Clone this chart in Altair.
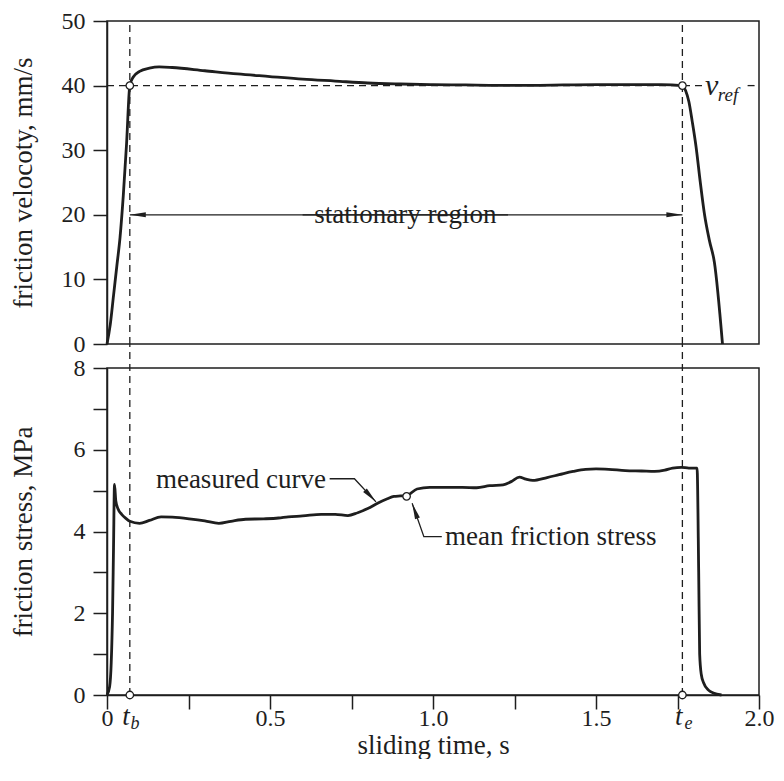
import altair as alt
import pandas as pd

FONT = "Liberation Serif, Times New Roman, serif"
INK = "#1e1e1e"

# ---------------- data ----------------
T_B = 0.07
T_E = 1.765
V_REF = 40

vel_t = [0.0, 0.01, 0.02, 0.03, 0.04, 0.05, 0.06, 0.07, 0.08, 0.10, 0.13, 0.16, 0.20,
         0.30, 0.40, 0.50, 0.60, 0.70, 0.80, 0.90, 1.00, 1.10, 1.20, 1.30, 1.40, 1.50,
         1.60, 1.70, 1.765, 1.775, 1.785, 1.795, 1.807, 1.82, 1.833, 1.848, 1.863, 1.888]
vel_v = [0, 3, 7.5, 12, 16.5, 23, 31, 40, 41.3, 42.2, 42.7, 42.9, 42.8,
         42.3, 41.8, 41.4, 41.0, 40.7, 40.4, 40.25, 40.15, 40.1, 40.05, 40.05, 40.1, 40.15,
         40.15, 40.15, 40.0, 39.2, 37.5, 34.5, 30.5, 25, 20, 16, 12.7, 0]

str_t = [0.0, 0.008, 0.013, 0.017, 0.020, 0.023, 0.027, 0.034, 0.045, 0.058, 0.07, 0.10,
         0.13, 0.166, 0.20, 0.252, 0.30, 0.343, 0.38, 0.425, 0.48, 0.526, 0.556, 0.60,
         0.657, 0.70, 0.739, 0.769, 0.80, 0.83, 0.86, 0.88, 0.90, 0.919, 0.951, 0.99,
         1.032, 1.09, 1.134, 1.174, 1.215, 1.24, 1.265, 1.285, 1.306, 1.35, 1.387, 1.43,
         1.468, 1.50, 1.539, 1.59, 1.64, 1.68, 1.711, 1.735, 1.762, 1.785, 1.81, 1.815,
         1.818, 1.823, 1.83, 1.845, 1.86, 1.885]
str_s = [0.0, 0.2, 0.8, 2.0, 3.6, 5.15, 4.75, 4.55, 4.42, 4.32, 4.25, 4.2,
         4.27, 4.36, 4.35, 4.31, 4.26, 4.2, 4.25, 4.3, 4.31, 4.33, 4.36, 4.38,
         4.42, 4.42, 4.39, 4.46, 4.56, 4.69, 4.8, 4.86, 4.87, 4.88, 5.04, 5.08,
         5.08, 5.08, 5.07, 5.12, 5.14, 5.22, 5.33, 5.28, 5.25, 5.32, 5.39, 5.47,
         5.52, 5.53, 5.52, 5.49, 5.48, 5.47, 5.5, 5.55, 5.57, 5.55, 5.55, 3.0,
         1.0, 0.5, 0.3, 0.12, 0.05, 0.0]

x_ticks = [0, 0.25, 0.5, 0.75, 1.0, 1.25, 1.5, 1.75, 2.0]
v_ticks = [0, 5, 10, 15, 20, 25, 30, 35, 40, 45, 50]
s_ticks = [0, 1, 2, 3, 4, 5, 6, 7, 8]

# annotation positions (data units)
vref_seg_start = [0.0, 1.965]
vref_seg_end = [1.83, 2.0]
stat_text = "stationary region"
stat_pos = (0.915, 20)
stat_lines_t = [T_B, 0.60]
stat_lines_t2 = [1.23, T_E]
mean_pt = (0.919, 4.86)
meas_text = "measured curve"
meas_text_pos = (0.672, 5.27)
meas_leader_t = [0.683, 0.759, 0.825]
meas_leader_s = [5.29, 5.29, 4.725]
mean_text = "mean friction stress"
mean_text_pos = (1.037, 3.875)
mean_leader_t = [0.936, 0.972, 1.027]
mean_leader_s = [4.69, 3.875, 3.875]

W, H1, H2, GAP = 652, 323, 327, 24
ARROW = "M 0 0 L -2 -0.32 L -2 0.32 Z"
FS_LAB, FS_TXT = 24, 27

xs = alt.Scale(domain=[0, 2], nice=False, zero=False)
ys_top = alt.Scale(domain=[0, 50], nice=False)
ys_bot = alt.Scale(domain=[0, 8], nice=False)

dash = dict(strokeDash=[7, 5], strokeWidth=1.3, color=INK)


def XT():
    return alt.X("t:Q", scale=xs, axis=None)


def head(df, x, y, ang):
    return alt.Chart(df).mark_point(shape=ARROW, filled=True, size=256, color=INK, opacity=1,
                                    strokeWidth=0, angle=ang).encode(x=x, y=y)


def label(df, x, y, fs, italic=False, align="center"):
    kw = dict(font=FONT, fontSize=fs, color=INK, align=align, baseline="middle")
    if italic:
        kw["fontStyle"] = "italic"
    return alt.Chart(df).mark_text(**kw).encode(x=x, y=y, text="txt:N")


# ---------------- top panel ----------------
vel_df = pd.DataFrame({"t": vel_t, "v": vel_v})
vel_line = alt.Chart(vel_df).mark_line(color=INK, strokeWidth=2.8, interpolate="monotone").encode(
    x=XT(),
    y=alt.Y("v:Q", scale=ys_top, axis=alt.Axis(
        values=v_ticks, labelExpr="datum.value % 10 == 0 ? datum.label : ''",
        title="friction velocoty, mm/s", titleX=-84, titleBaseline="middle")),
)

vref_df = pd.DataFrame({"t": vref_seg_start, "t2": vref_seg_end, "v": [V_REF] * 2})
vref_rule = alt.Chart(vref_df).mark_rule(**dash).encode(x=XT(), x2="t2:Q", y="v:Q")

vt_df = pd.DataFrame({"t": [T_B, T_E], "v": [0, 0], "v2": [50, 50]})
vrule_top = alt.Chart(vt_df).mark_rule(**dash).encode(x=XT(), y="v:Q", y2="v2:Q")

stat_df = pd.DataFrame({"t": [stat_pos[0]], "v": [stat_pos[1]], "txt": [stat_text]})
stat_txt = label(stat_df, XT(), "v:Q", FS_TXT)
sl_df = pd.DataFrame({"t": stat_lines_t, "t2": stat_lines_t2, "v": [stat_pos[1]] * 2})
stat_lines = alt.Chart(sl_df).mark_rule(color=INK, strokeWidth=1.3).encode(x=XT(), x2="t2:Q", y="v:Q")
head_l = head(pd.DataFrame({"t": [T_B], "v": [stat_pos[1]]}), XT(), "v:Q", 180)
head_r = head(pd.DataFrame({"t": [T_E], "v": [stat_pos[1]]}), XT(), "v:Q", 0)

vc_df = pd.DataFrame({"t": [T_B, T_E], "v": [V_REF] * 2})
vel_circ = alt.Chart(vc_df).mark_point(shape="circle", size=56, filled=True, fill="white",
                                       stroke=INK, strokeWidth=1.3, opacity=1).encode(x=XT(), y="v:Q")

vref_v = label(pd.DataFrame({"t": [1.855], "v": [39.9], "txt": ["v"]}), XT(), "v:Q", 30, italic=True)
vref_sub = label(pd.DataFrame({"t": [1.905], "v": [38.6], "txt": ["ref"]}), XT(), "v:Q", 19, italic=True)

top = alt.layer(vref_rule, vrule_top, stat_lines, head_l, head_r, stat_txt, vel_line, vel_circ,
                vref_v, vref_sub).properties(width=W, height=H1)

# ---------------- bottom panel ----------------
str_df = pd.DataFrame({"t": str_t, "s": str_s})
str_line = alt.Chart(str_df).mark_line(color=INK, strokeWidth=2.8, interpolate="monotone").encode(
    x=alt.X("t:Q", scale=xs, axis=alt.Axis(
        values=x_ticks,
        labelExpr="datum.value % 0.5 == 0 ? (datum.value == 0 ? '0' : format(datum.value, '.1f')) : ''",
        title="sliding time, s", titleY=50, titleBaseline="middle")),
    y=alt.Y("s:Q", scale=ys_bot, axis=alt.Axis(
        values=s_ticks, labelExpr="datum.value % 2 == 0 ? datum.label : ''",
        title="friction stress, MPa", titleX=-84, titleBaseline="middle")),
)

vb_df = pd.DataFrame({"t": [T_B, T_E]})
vrule_bot = alt.Chart(vb_df).mark_rule(**dash).encode(x="t:Q", y=alt.value(H2), y2=alt.value(-GAP))

sc_df = pd.DataFrame({"t": [T_B, T_E, mean_pt[0]], "s": [0, 0, mean_pt[1]]})
str_circ = alt.Chart(sc_df).mark_point(shape="circle", size=56, filled=True, fill="white",
                                       stroke=INK, strokeWidth=1.3, opacity=1).encode(x="t:Q", y="s:Q")

ml_df = pd.DataFrame({"t": meas_leader_t, "s": meas_leader_s})
meas_leader = alt.Chart(ml_df).mark_line(color=INK, strokeWidth=1.3).encode(x="t:Q", y="s:Q")
nl_df = pd.DataFrame({"t": mean_leader_t, "s": mean_leader_s})
mean_leader = alt.Chart(nl_df).mark_line(color=INK, strokeWidth=1.3).encode(x="t:Q", y="s:Q")

head_m = head(pd.DataFrame({"t": [meas_leader_t[2]], "s": [meas_leader_s[2]]}), "t:Q", "s:Q", 46.8)
head_n = head(pd.DataFrame({"t": [mean_leader_t[0]], "s": [mean_leader_s[0]]}), "t:Q", "s:Q", 250.5)

meas_txt = label(pd.DataFrame({"t": [meas_text_pos[0]], "s": [meas_text_pos[1]], "txt": [meas_text]}),
                 "t:Q", "s:Q", FS_TXT, align="right")
mean_txt = label(pd.DataFrame({"t": [mean_text_pos[0]], "s": [mean_text_pos[1]], "txt": [mean_text]}),
                 "t:Q", "s:Q", FS_TXT, align="left")

t_main = label(pd.DataFrame({"t": [0.058, 1.754], "s": [-0.55, -0.55], "txt": ["t", "t"]}),
               "t:Q", "s:Q", 27, italic=True)
t_sub = label(pd.DataFrame({"t": [0.086, 1.784], "s": [-0.72, -0.72], "txt": ["b", "e"]}),
              "t:Q", "s:Q", 18, italic=True)

bottom = alt.layer(str_line, vrule_bot, meas_leader, mean_leader, head_m, head_n, meas_txt, mean_txt,
                   str_circ, t_main, t_sub).properties(width=W, height=H2)

chart = alt.vconcat(top, bottom, spacing=GAP, bounds="flush").properties(
    padding={"left": 0, "top": 0, "right": 0, "bottom": 0}
).configure_view(stroke=INK, strokeWidth=1.5).configure_axis(
    domainColor=INK, domainWidth=1.5, tickColor=INK, tickWidth=1.5, tickSize=14,
    labelFont=FONT, labelFontSize=FS_LAB, labelColor=INK, titleFont=FONT, titleFontSize=27,
    titleFontWeight="normal", titleColor=INK, grid=False, labelOverlap=False, labelFlush=False,
).configure_axisX(labelPadding=9, labelBaseline="middle").configure_axisY(labelPadding=8)

chart.save("out.html", embed_options={"renderer": "svg", "actions": False})
